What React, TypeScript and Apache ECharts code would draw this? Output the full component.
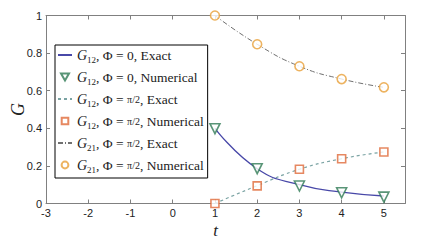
import React, { useEffect, useRef } from "react";
import * as echarts from "echarts";

const tValues = [1, 2, 3, 4, 5];
const g12Phi0Exact = [0.4, 0.185, 0.1, 0.06, 0.04];
const g12Phi0Num = [0.398, 0.185, 0.093, 0.057, 0.034];
const g12PiExact = [0, 0.095, 0.182, 0.238, 0.274];
const g12PiNum = [0, 0.094, 0.182, 0.238, 0.274];
const g21PiExact = [1, 0.847, 0.73, 0.662, 0.618];
const g21PiNum = [1, 0.847, 0.73, 0.662, 0.618];
const xTicks = [-3, -2, -1, 0, 1, 2, 3, 4, 5];

const legendLabels: Record<string, string> = {
  e0: "{i|G}{s|12}{t|, Φ = 0, Exact}",
  n0: "{i|G}{s|12}{t|, Φ = 0, Numerical}",
  e1: "{i|G}{s|12}{t|, Φ = }{f|π/2}{t|, Exact}",
  n1: "{i|G}{s|12}{t|, Φ = }{f|π/2}{t|, Numerical}",
  e2: "{i|G}{s|21}{t|, Φ = }{f|π/2}{t|, Exact}",
  n2: "{i|G}{s|21}{t|, Φ = }{f|π/2}{t|, Numerical}",
};

// legend icon shapes padded to a 14x8 box so they are not stretched
const pad = "M0,0L0,0M14,8L14,8";
const iconTri = "path://" + pad + "M3,0.5L11,0.5L7,7.5Z";
const iconRect = "path://" + pad + "M3.7,0.7L10.3,0.7L10.3,7.3L3.7,7.3Z";
const iconCirc = "path://" + pad + "M3.6,4A3.4,3.4 0 1 0 10.4,4A3.4,3.4 0 1 0 3.6,4Z";

const pairs = (ys: number[]) => tValues.map((t, i) => [t, ys[i]]);

export default function App() {
  const ref = useRef<HTMLDivElement>(null);
  useEffect(() => {
    const chart = echarts.init(ref.current!, null, { renderer: "svg" });
    const serif = "Liberation Serif";
    const axisColor = "#808080";
    const baseX = {
      type: "value" as const,
      min: -3,
      max: 5.5,
      interval: 1,
      axisLine: { show: true, onZero: false, lineStyle: { color: axisColor } },
      splitLine: { show: false },
    };
    const baseY = {
      type: "value" as const,
      min: 0,
      max: 1,
      interval: 0.2,
      axisLine: { show: true, onZero: false, lineStyle: { color: axisColor } },
      splitLine: { show: false },
    };
    const hidden = { opacity: 0, color: "rgba(0,0,0,0)", borderColor: "rgba(0,0,0,0)", borderWidth: 0 };
    chart.setOption({
      animation: false,
      grid: { left: 46, right: 31, top: 15.5, bottom: 36.5, containLabel: false, outerBoundsMode: "none" },
      xAxis: [
        {
          ...baseX,
          position: "bottom",
          name: "t",
          nameLocation: "middle",
          nameGap: 18,
          nameMoveOverlap: false,
          nameTextStyle: { fontFamily: serif, fontStyle: "italic", fontSize: 17, color: "#222", padding: [0, 20, 0, 0] },
          axisTick: { inside: true, length: 4, lineStyle: { color: axisColor }, customValues: xTicks },
          axisLabel: { customValues: xTicks, color: "#222", fontSize: 11, fontFamily: "Liberation Sans", margin: 4 },
        },
        {
          ...baseX,
          position: "top",
          axisTick: { inside: true, length: 4, lineStyle: { color: axisColor }, customValues: xTicks },
          axisLabel: { show: false },
        },
      ],
      yAxis: [
        {
          ...baseY,
          position: "left",
          name: "G",
          nameLocation: "middle",
          nameGap: 19,
          nameMoveOverlap: false,
          nameRotate: 90,
          nameTextStyle: { fontFamily: serif, fontStyle: "italic", fontSize: 18, color: "#222" },
          axisTick: { inside: true, length: 4, lineStyle: { color: axisColor } },
          axisLabel: { color: "#222", fontSize: 11, fontFamily: "Liberation Sans", margin: 4 },
        },
        {
          ...baseY,
          position: "right",
          axisTick: { inside: true, length: 4, lineStyle: { color: axisColor } },
          axisLabel: { show: false },
        },
      ],
      legend: {
        left: 55,
        top: 45,
        orient: "vertical",
        backgroundColor: "#fff",
        borderColor: "#000",
        borderWidth: 1,
        padding: [3, 4, 4, 2],
        itemGap: 6,
        itemWidth: 14,
        itemHeight: 8,
        data: [
          { name: "e0", itemStyle: hidden },
          { name: "n0", icon: iconTri },
          { name: "e1", itemStyle: hidden },
          { name: "n1", icon: iconRect },
          { name: "e2", itemStyle: hidden },
          { name: "n2", icon: iconCirc },
        ],
        formatter: (name: string) => legendLabels[name],
        textStyle: {
          fontFamily: serif,
          color: "#222",
          rich: {
            i: { fontFamily: serif, fontStyle: "italic", fontSize: 14, lineHeight: 18, color: "#222" },
            s: { fontFamily: serif, fontSize: 9, lineHeight: 18, verticalAlign: "bottom", padding: [6, 0, 0, 0], color: "#222" },
            t: { fontFamily: serif, fontSize: 13.5, lineHeight: 18, color: "#222" },
            f: { fontFamily: serif, fontSize: 10, lineHeight: 18, color: "#222" },
          },
        },
      },
      series: [
        {
          name: "e0",
          type: "line",
          data: pairs(g12Phi0Exact),
          smooth: true,
          symbol: "none",
          lineStyle: { color: "#4848a8", width: 1.3 },
          itemStyle: { color: "#4848a8", opacity: 0 },
          z: 2,
        },
        {
          name: "n0",
          type: "scatter",
          data: pairs(g12Phi0Num),
          symbol: "triangle",
          symbolRotate: 180,
          symbolSize: 10,
          itemStyle: { color: "#ffffff", borderColor: "#2f7a55", borderWidth: 1.6 },
          z: 3,
        },
        {
          name: "e1",
          type: "line",
          data: pairs(g12PiExact),
          smooth: true,
          symbol: "none",
          lineStyle: { color: "#7aa3a3", width: 1.2, type: [3, 3] },
          itemStyle: { color: "#7aa3a3", opacity: 0 },
          z: 2,
        },
        {
          name: "n1",
          type: "scatter",
          data: pairs(g12PiNum),
          symbol: "rect",
          symbolSize: 8,
          itemStyle: { color: "#ffffff", borderColor: "#e06a3a", borderWidth: 1.6 },
          z: 3,
        },
        {
          name: "e2",
          type: "line",
          data: pairs(g21PiExact),
          smooth: true,
          symbol: "none",
          lineStyle: { color: "#707070", width: 1, type: [5, 2, 1, 2] },
          itemStyle: { color: "#707070", opacity: 0 },
          z: 2,
        },
        {
          name: "n2",
          type: "scatter",
          data: pairs(g21PiNum),
          symbol: "circle",
          symbolSize: 9,
          itemStyle: { color: "#ffffff", borderColor: "#e8a03a", borderWidth: 1.6 },
          z: 3,
        },
      ],
    });
    return () => chart.dispose();
  }, []);
  return <div ref={ref} style={{ width: 436, height: 240, position: "absolute", left: 0, top: 0 }} />;
}
